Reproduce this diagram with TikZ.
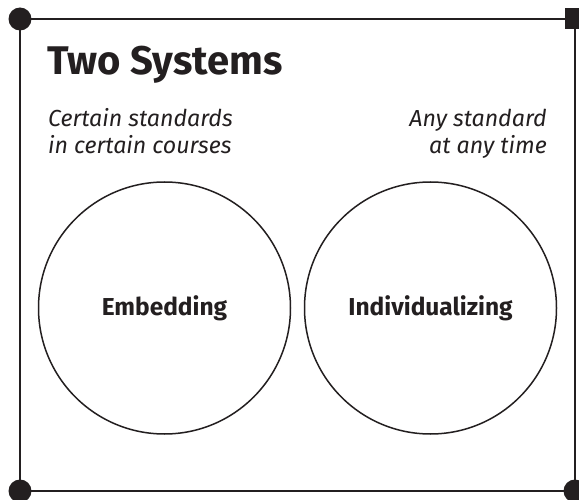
\documentclass[tikz,border=0pt]{standalone}
\usepackage{fontspec}
\setmainfont{Fira Sans}
\definecolor{ink}{HTML}{231F20}
\begin{document}
\begin{tikzpicture}[x=1pt,y=-1pt,
  frameline/.style={draw=ink,line width=2pt},
  ring/.style={circle,draw=ink,line width=1.5pt,minimum size=252pt,inner sep=0pt},
  dotmark/.style={circle,fill=ink,minimum size=23pt,inner sep=0pt},
  sqmark/.style={rectangle,fill=ink,minimum size=21pt,inner sep=0pt},
  titletext/.style={anchor=base west,inner sep=0pt,text=ink,font=\fontsize{40}{48}\selectfont\bfseries},
  notetext/.style={inner sep=0pt,text=ink,font=\fontsize{23.2}{27}\selectfont\itshape},
  ringtext/.style={inner sep=0pt,text=ink,font=\fontsize{24.5}{28}\selectfont\bfseries}]
\useasboundingbox (0,0) rectangle (579,500);
\fill[white] (0,0) rectangle (579,500);
\coordinate (tl) at (20,19);
\coordinate (tr) at (575,19);
\coordinate (br) at (575,491);
\coordinate (bl) at (20,491);
\draw[frameline] (tl) -- (tr) -- (br) -- (bl) -- cycle;
\node[dotmark] (mtl) at (tl) {};
\node[sqmark] (mtr) at (tr) {};
\node[dotmark] (mbl) at (bl) {};
\node[dotmark] (mbr) at (br) {};
\node[titletext] (title) at (47,75) {Two Systems};
\node[notetext,anchor=base west] (l1) at (48,127) {Certain standards};
\node[notetext,anchor=base west] (l2) at (48,154) {in certain courses};
\node[notetext,anchor=base east] (r1) at (547,127) {Any standard};
\node[notetext,anchor=base east] (r2) at (547,154) {at any time};
\node[ring] (emb) at (164.5,308) {};
\node[ring] (ind) at (430.5,308) {};
\node[ringtext] (embt) at (emb.center) {Embedding};
\node[ringtext] (indt) at (ind.center) {Individualizing};
\end{tikzpicture}
\end{document}
